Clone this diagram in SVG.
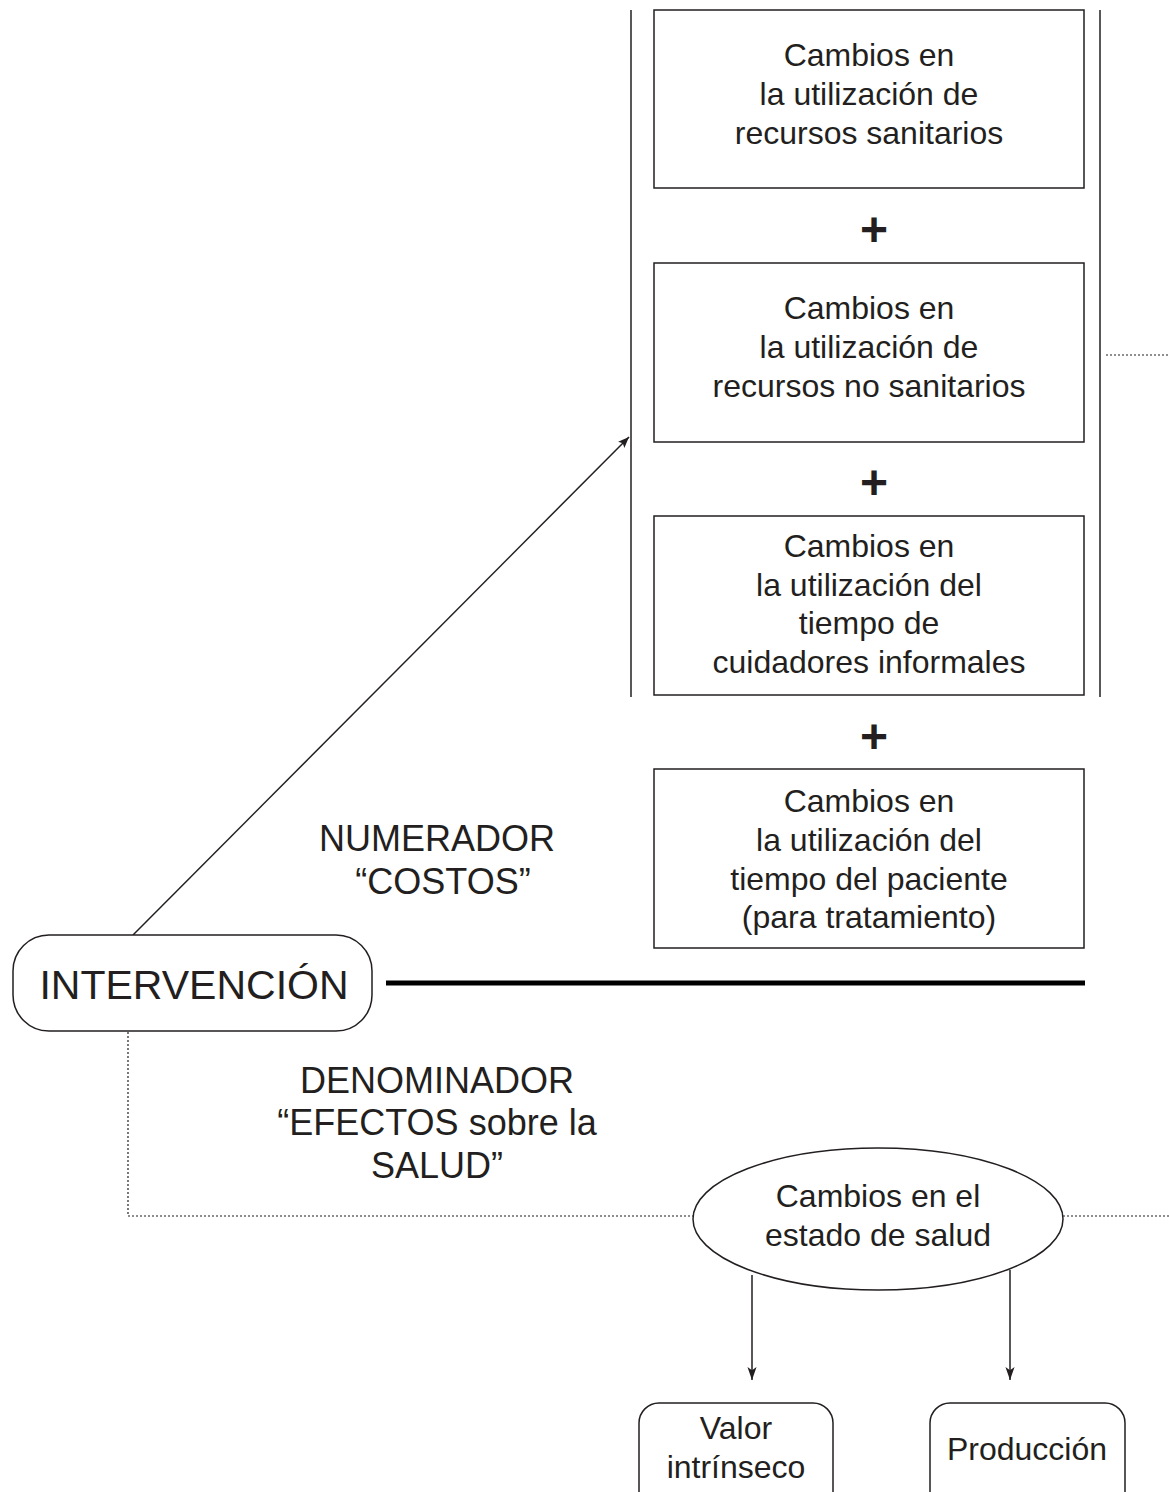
<svg xmlns="http://www.w3.org/2000/svg" width="1169" height="1492" viewBox="0 0 1169 1492">
<defs>
<style>
text{font-family:"Liberation Sans",Arial,sans-serif;fill:#231f20;text-anchor:middle}
.t{font-size:32px}
.big{font-size:41px}
.lab{font-size:36px}
.plus{font-size:48px;font-weight:bold}
.box{fill:#fff;stroke:#231f20;stroke-width:1.5}
.ln{stroke:#231f20;stroke-width:1.5;fill:none}
.dot{stroke:#231f20;stroke-width:1.2;fill:none;stroke-dasharray:2 2}
</style>
<marker id="ah" viewBox="0 0 10 10" refX="10" refY="5" markerWidth="11" markerHeight="11" markerUnits="userSpaceOnUse" orient="auto">
<path d="M0,1 L10,5 L0,9 L2,5 Z" fill="#231f20"/>
</marker>
<marker id="ah2" viewBox="0 0 10 10" refX="10" refY="5" markerWidth="13" markerHeight="13" markerUnits="userSpaceOnUse" orient="auto">
<path d="M0,1.5 L10,5 L0,8.5 L2.5,5 Z" fill="#231f20"/>
</marker>
</defs>
<rect width="1169" height="1492" fill="#fff"/>
<g id="connectors">
<line class="ln" x1="631" y1="10" x2="631" y2="697"/>
<line class="ln" x1="1100" y1="10" x2="1100" y2="697"/>
<line class="dot" x1="1106" y1="355" x2="1169" y2="355"/>
<line class="ln" x1="133" y1="935" x2="629" y2="437" marker-end="url(#ah)"/>
<line x1="386" y1="983" x2="1085" y2="983" stroke="#000" stroke-width="5"/>
<polyline class="dot" points="128,1032 128,1216 694,1216"/>
<line class="dot" x1="1063" y1="1216" x2="1169" y2="1216"/>
<line class="ln" x1="752" y1="1275" x2="752" y2="1380" marker-end="url(#ah2)"/>
<line class="ln" x1="1010" y1="1270" x2="1010" y2="1380" marker-end="url(#ah2)"/>
</g>
<g id="box1">
<rect class="box" x="654" y="10" width="430" height="178"/>
<text class="t" x="869" y="66">Cambios en</text>
<text class="t" x="869" y="105">la utilización de</text>
<text class="t" x="869" y="144">recursos sanitarios</text>
</g>
<g id="plus1"><text class="plus" x="874" y="246">+</text></g>
<g id="box2">
<rect class="box" x="654" y="263" width="430" height="179"/>
<text class="t" x="869" y="319">Cambios en</text>
<text class="t" x="869" y="358">la utilización de</text>
<text class="t" x="869" y="397">recursos no sanitarios</text>
</g>
<g id="plus2"><text class="plus" x="874" y="499">+</text></g>
<g id="box3">
<rect class="box" x="654" y="516" width="430" height="179"/>
<text class="t" x="869" y="557">Cambios en</text>
<text class="t" x="869" y="596">la utilización del</text>
<text class="t" x="869" y="634">tiempo de</text>
<text class="t" x="869" y="673">cuidadores informales</text>
</g>
<g id="plus3"><text class="plus" x="874" y="753">+</text></g>
<g id="box4">
<rect class="box" x="654" y="769" width="430" height="179"/>
<text class="t" x="869" y="812">Cambios en</text>
<text class="t" x="869" y="851">la utilización del</text>
<text class="t" x="869" y="890">tiempo del paciente</text>
<text class="t" x="869" y="928">(para tratamiento)</text>
</g>
<g id="numerador">
<text class="lab" x="437" y="851">NUMERADOR</text>
<text class="lab" x="443" y="894">“COSTOS”</text>
</g>
<g id="intervencion">
<rect class="box" x="13" y="935" width="359" height="96" rx="36"/>
<text class="big" x="194" y="999">INTERVENCIÓN</text>
</g>
<g id="denominador">
<text class="lab" x="437" y="1093">DENOMINADOR</text>
<text class="lab" x="437" y="1135">“EFECTOS sobre la</text>
<text class="lab" x="437" y="1178">SALUD”</text>
</g>
<g id="estado">
<ellipse class="box" cx="878" cy="1219" rx="185" ry="71"/>
<text class="t" x="878" y="1207">Cambios en el</text>
<text class="t" x="878" y="1246">estado de salud</text>
</g>
<g id="valor">
<rect class="box" x="639" y="1403" width="194" height="120" rx="20"/>
<text class="t" x="736" y="1439">Valor</text>
<text class="t" x="736" y="1478">intrínseco</text>
</g>
<g id="produccion">
<rect class="box" x="930" y="1403" width="195" height="120" rx="20"/>
<text class="t" x="1027" y="1460">Producción</text>
</g>
</svg>
